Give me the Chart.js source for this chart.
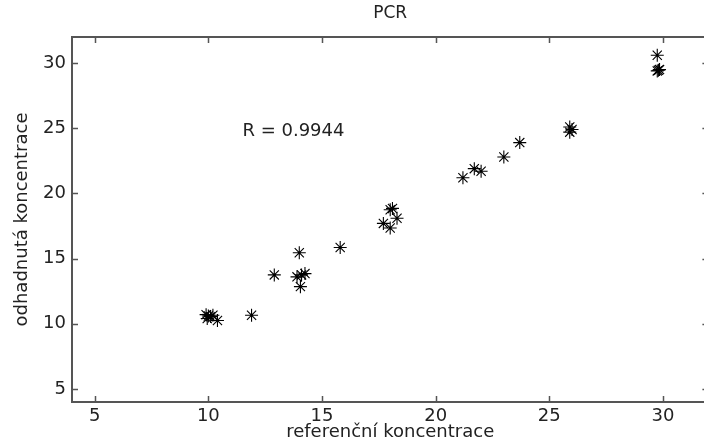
<!DOCTYPE html>
<html>
<head>
<meta charset="utf-8">
<script src="https://cdn.jsdelivr.net/npm/chart.js@4"></script>
<style>
  html, body { margin: 0; padding: 0; background: #fff; overflow: hidden; }
</style>
</head>
<body>
<canvas id="pcr" width="716" height="446"></canvas>
<script>
// reference vs. estimated concentration
const referenceConc = [29.75, 29.8, 29.85, 29.75, 25.9, 26.0, 25.9, 23.7, 23.0, 21.7, 22.0, 21.2,
  18.0, 18.1, 18.3, 17.7, 18.0, 15.8, 14.0, 12.9, 13.9, 14.1, 14.25, 14.05,
  9.9, 10.0, 10.1, 9.95, 10.2, 10.4, 11.9];
const estimatedConc = [30.6, 29.45, 29.5, 29.4, 25.1, 24.9, 24.7, 23.9, 22.8, 21.9, 21.7, 21.2,
  18.75, 18.85, 18.1, 17.7, 17.35, 15.85, 15.45, 13.75, 13.6, 13.75, 13.85, 12.85,
  10.7, 10.6, 10.55, 10.4, 10.65, 10.25, 10.65];
const xTicks = [5, 10, 15, 20, 25, 30];
const yTicks = [5, 10, 15, 20, 25, 30];
const axisRange = [4, 32];
const rLabel = 'R = 0.9944';
const rLabelAt = [11.5, 24.8];

const points = referenceConc.map((x, i) => ({x: x, y: estimatedConc[i]}));
const fontFamily = '"DejaVu Sans", "Liberation Sans", Arial, sans-serif';
const axisColor = '#555';

// box, inward tick marks, title and the R annotation
const matlabAxes = {
  id: 'matlabAxes',
  afterDraw(chart) {
    const ctx = chart.ctx;
    const a = chart.chartArea;
    const xs = chart.scales.x, ys = chart.scales.y;
    ctx.save();
    ctx.strokeStyle = axisColor;
    ctx.lineWidth = 2;
    ctx.strokeRect(a.left, a.top, a.right - a.left, a.bottom - a.top);
    ctx.lineWidth = 1.5;
    ctx.beginPath();
    xTicks.forEach(v => {
      const px = Math.round(xs.getPixelForValue(v)) + 0.5;
      ctx.moveTo(px, a.bottom); ctx.lineTo(px, a.bottom - 6);
      ctx.moveTo(px, a.top); ctx.lineTo(px, a.top + 6);
    });
    yTicks.forEach(v => {
      const py = Math.round(ys.getPixelForValue(v)) + 0.5;
      ctx.moveTo(a.left, py); ctx.lineTo(a.left + 6, py);
      ctx.moveTo(a.right, py); ctx.lineTo(a.right - 6, py);
    });
    ctx.stroke();

    ctx.fillStyle = '#222';
    ctx.font = '17px ' + fontFamily;
    ctx.textAlign = 'center';
    ctx.textBaseline = 'middle';
    ctx.fillText('PCR', (a.left + a.right) / 2, 14);

    ctx.font = '18px ' + fontFamily;
    ctx.textAlign = 'left';
    ctx.fillText(rLabel, xs.getPixelForValue(rLabelAt[0]), ys.getPixelForValue(rLabelAt[1]));
    ctx.restore();
  }
};

new Chart(document.getElementById('pcr'), {
  type: 'scatter',
  data: {
    datasets: [{
      data: points,
      pointStyle: 'star',
      radius: 6.5,
      hoverRadius: 6.5,
      borderColor: '#000',
      backgroundColor: '#000',
      borderWidth: 1.1
    }]
  },
  options: {
    responsive: false,
    animation: false,
    devicePixelRatio: 1,
    layout: {padding: {top: 37, right: 3, bottom: 0, left: 0}},
    plugins: {legend: {display: false}, tooltip: {enabled: false}},
    scales: {
      x: {
        type: 'linear',
        min: axisRange[0], max: axisRange[1],
        afterBuildTicks: s => { s.ticks = xTicks.map(v => ({value: v})); },
        afterFit: s => { s.height = 44; },
        grid: {display: false, drawTicks: false},
        border: {display: false},
        ticks: {padding: 4, color: '#222', font: {family: fontFamily, size: 18}},
        title: {display: true, text: 'referenční koncentrace', color: '#222',
          padding: {top: 0, bottom: 3}, font: {family: fontFamily, size: 18}}
      },
      y: {
        type: 'linear',
        min: axisRange[0], max: axisRange[1],
        afterBuildTicks: s => { s.ticks = yTicks.map(v => ({value: v})); },
        afterFit: s => { s.width = 72; },
        grid: {display: false, drawTicks: false},
        border: {display: false},
        ticks: {padding: 6, color: '#222', font: {family: fontFamily, size: 18}},
        title: {display: true, text: 'odhadnutá koncentrace', color: '#222',
          padding: {top: 12, bottom: 0}, font: {family: fontFamily, size: 18}}
      }
    }
  },
  plugins: [matlabAxes]
});
</script>
</body>
</html>
